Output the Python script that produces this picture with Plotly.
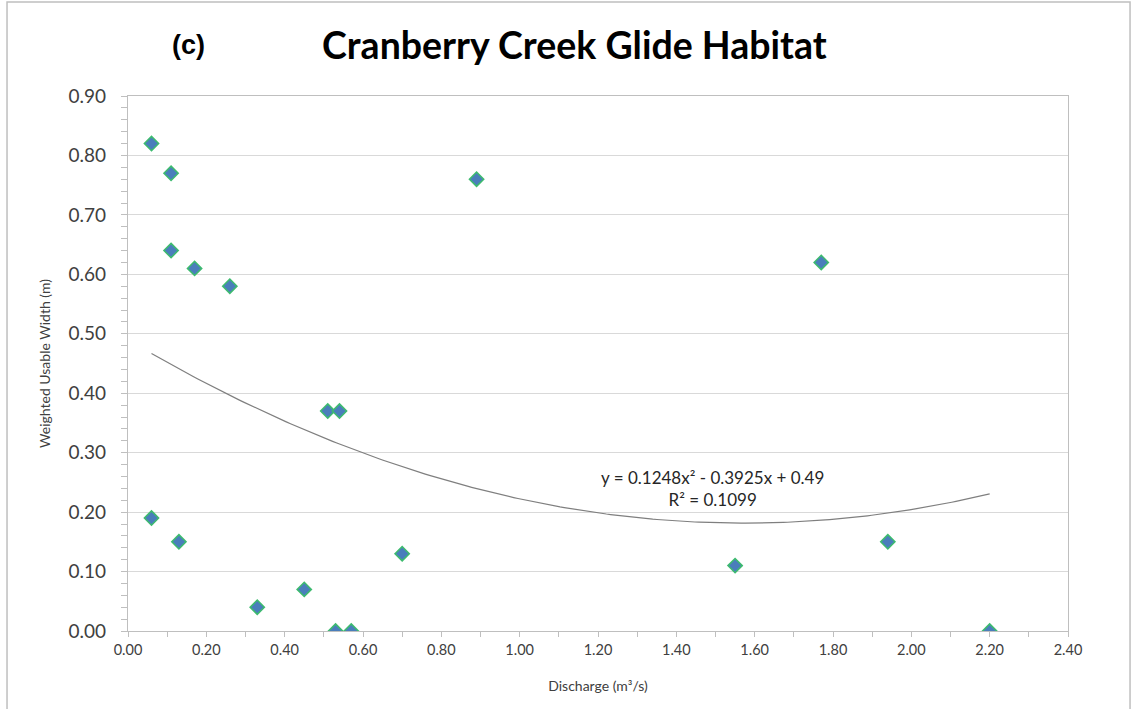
import numpy as np
import plotly.graph_objects as go

# Discharge (m3/s) and weighted usable width (m) for glide habitat
discharge = [0.06, 0.11, 0.11, 0.17, 0.26, 0.06, 0.13, 0.33, 0.45, 0.51,
             0.54, 0.53, 0.57, 0.70, 0.89, 1.55, 1.77, 1.94, 2.20]
wuw = [0.82, 0.77, 0.64, 0.61, 0.58, 0.19, 0.15, 0.04, 0.07, 0.37,
       0.37, 0.00, 0.00, 0.13, 0.76, 0.11, 0.62, 0.15, 0.00]

# Second-order polynomial trendline coefficients and fit statistic
poly_a, poly_b, poly_c = 0.1248, -0.3925, 0.49
r_squared = 0.1099

x_ticks = [round(0.2 * i, 2) for i in range(13)]
y_ticks = [round(0.1 * i, 2) for i in range(10)]

trend_x = np.linspace(min(discharge), max(discharge), 200)
trend_y = poly_a * trend_x ** 2 + poly_b * trend_x + poly_c

font_main = "Lato, 'Open Sans', sans-serif"
grey_text = "#404040"

fig = go.Figure()
fig.add_trace(go.Scatter(
    x=trend_x, y=trend_y, mode="lines",
    line=dict(color="#7f7f7f", width=1.2),
    hoverinfo="skip", showlegend=False,
))
fig.add_trace(go.Scatter(
    x=discharge, y=wuw, mode="markers",
    marker=dict(symbol="diamond", size=11, color="#4a7ebb",
                line=dict(color="#3dbb6e", width=1.5)),
    showlegend=False,
))

# trendline equation label
fig.add_annotation(
    x=1.4935, y=0.2397, xref="x", yref="y", showarrow=False,
    xanchor="center", yanchor="middle",
    text=f"y = {poly_a}x² - {abs(poly_b)}x + {poly_c}<br>R² = {r_squared}",
    font=dict(family=font_main, size=17, color="#262626"),
    align="center",
)
# panel letter
fig.add_annotation(
    x=0.064, y=1.095, xref="paper", yref="paper", showarrow=False,
    xanchor="center", yanchor="middle",
    text="<b>(c)</b>", font=dict(family="Arial, sans-serif", size=27, color="black"),
)

# outer chart frame
fig.add_shape(type="rect", xref="paper", yref="paper",
              x0=-0.1287, x1=1.066, y0=-0.16, y1=1.1757,
              line=dict(color="#bfbfbf", width=1.5), fillcolor="rgba(0,0,0,0)")

fig.update_layout(
    width=1133, height=709,
    margin=dict(l=128, r=65, t=96, b=78),
    paper_bgcolor="white", plot_bgcolor="white",
    title=dict(text="<b>Cranberry Creek Glide Habitat</b>", x=0.507, y=0.936,
               xanchor="center", yanchor="middle",
               font=dict(family=font_main, size=37.5, color="black")),
    font=dict(family=font_main, color=grey_text),
)
fig.update_xaxes(
    range=[0, 2.4], tickvals=x_ticks, ticktext=[f"{v:.2f}" for v in x_ticks],
    showgrid=False, zeroline=False, showline=True, linecolor="#bfbfbf", linewidth=1.2,
    mirror=True, ticks="outside", ticklen=5, tickcolor="#bfbfbf",
    minor=dict(dtick=0.1, ticks="outside", ticklen=5, tickcolor="#bfbfbf", showgrid=False),
    tickfont=dict(size=14.5, color=grey_text),
    title=dict(text="Discharge (m³/s)", font=dict(size=14, color=grey_text), standoff=24),
)
fig.update_yaxes(
    range=[0, 0.9], tickvals=y_ticks, ticktext=[f"{v:.2f}" for v in y_ticks],
    showgrid=True, gridcolor="#d9d9d9", gridwidth=1.2,
    zeroline=False, showline=True, linecolor="#bfbfbf", linewidth=1.2,
    mirror=True, ticks="outside", ticklen=6, tickcolor="#bfbfbf",
    minor=dict(dtick=0.02, ticks="outside", ticklen=6, tickcolor="#bfbfbf", showgrid=False),
    tickfont=dict(size=19, color=grey_text), ticklabelstandoff=11,
    title=dict(text="Weighted Usable Width (m)", font=dict(size=14, color=grey_text), standoff=14),
)

fig.write_html("out.html")
